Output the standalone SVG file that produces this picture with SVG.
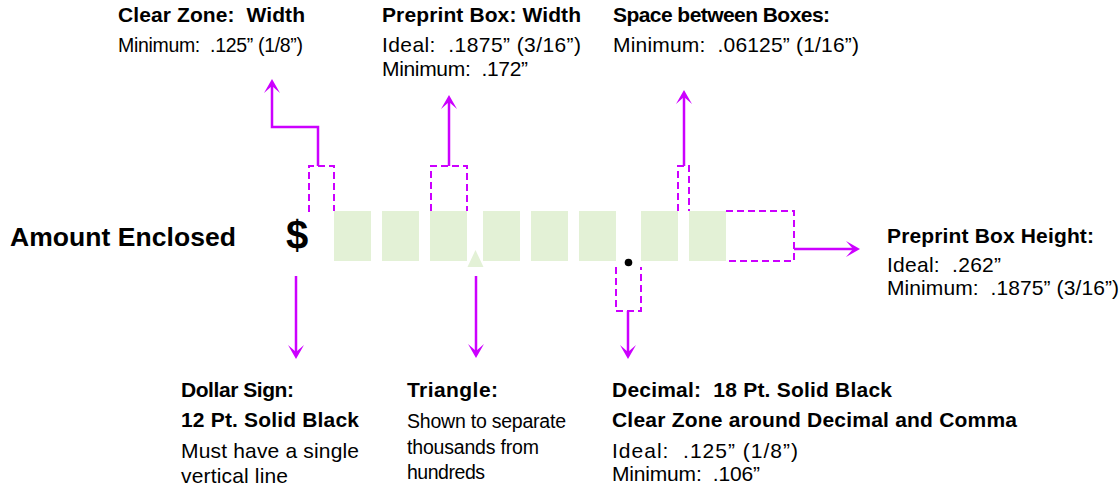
<svg xmlns="http://www.w3.org/2000/svg" width="1120" height="488" viewBox="0 0 1120 488" xml:space="preserve">
<defs>
<style>
text{font-family:"Liberation Sans",Arial,sans-serif;fill:#000;white-space:pre}
.t{font-weight:bold;font-size:21px}
.r{font-size:21px}
.s{font-size:19.5px}
.box{fill:#e3f1d6}
.dash{fill:none;stroke:#cc00ff;stroke-width:2;stroke-dasharray:7 4}
.arr{fill:none;stroke:#cc00ff;stroke-width:2.5;marker-end:url(#ah)}
</style>
<marker id="ah" viewBox="-14 -8 14 16" markerUnits="userSpaceOnUse" markerWidth="14" markerHeight="16" refX="-7" refY="0" orient="auto">
<path d="M0,0 L-14,-8 L-7,0 L-14,8 Z" fill="#cc00ff"/>
</marker>
</defs>
<rect width="1120" height="488" fill="#fff"/>
<g id="amount-enclosed"><text x="10" y="246" textLength="226" lengthAdjust="spacing" style="font-weight:bold;font-size:26.5px">Amount Enclosed</text></g>
<g id="dollar-sign"><text x="297" y="249" text-anchor="middle" style="font-weight:bold;font-size:40px">$</text></g>
<g id="preprint-boxes">
<rect class="box" x="334" y="211" width="37" height="50"/>
<rect class="box" x="382" y="211" width="37" height="50"/>
<rect class="box" x="430" y="211" width="37" height="50"/>
<rect class="box" x="483" y="211" width="37" height="50"/>
<rect class="box" x="531" y="211" width="37" height="50"/>
<rect class="box" x="579" y="211" width="37" height="50"/>
<rect class="box" x="641" y="211" width="37" height="50"/>
<rect class="box" x="689" y="211" width="37" height="50"/>
</g>
<g id="triangle"><polygon class="box" points="475.5,250 483.5,267 467.5,267"/></g>
<g id="decimal"><circle cx="628.5" cy="262.5" r="3.8" fill="#000"/></g>
<g id="dashed-zones">
<path class="dash" d="M309,212 V166 H334 V211"/>
<path class="dash" d="M431,211 V166 H467 V211"/>
<path class="dash" d="M678,211 V166 H689 V211"/>
<path class="dash" d="M616,267 V311 H641 V267"/>
<path class="dash" d="M726,211 H794 V261 H726"/>
</g>
<g id="connectors">
<path class="arr" d="M318,166 V127 H272 V86"/>
<path class="arr" d="M449,166 V102"/>
<path class="arr" d="M684,166 V97"/>
<path class="arr" d="M794,249 H853"/>
<path class="arr" d="M296,276 V352"/>
<path class="arr" d="M476,276 V351"/>
<path class="arr" d="M628,311 V352"/>
</g>
<g id="label-clear-zone">
<text class="t" x="118" y="22" textLength="187" lengthAdjust="spacing">Clear Zone:  Width</text>
<text class="s" x="118" y="52" textLength="185" lengthAdjust="spacing">Minimum:  .125” (1/8”)</text>
</g>
<g id="label-box-width">
<text class="t" x="382" y="22" textLength="199" lengthAdjust="spacing">Preprint Box: Width</text>
<text class="r" x="382" y="52" textLength="199" lengthAdjust="spacing">Ideal:  .1875” (3/16”)</text>
<text class="r" x="382" y="76" textLength="146" lengthAdjust="spacing">Minimum:  .172”</text>
</g>
<g id="label-space">
<text class="t" x="613" y="22" textLength="217" lengthAdjust="spacing">Space between Boxes:</text>
<text class="r" x="613" y="52" textLength="246" lengthAdjust="spacing">Minimum:  .06125” (1/16”)</text>
</g>
<g id="label-box-height">
<text class="t" x="887" y="243" textLength="207" lengthAdjust="spacing">Preprint Box Height:</text>
<text class="r" x="887" y="272" textLength="114" lengthAdjust="spacing">Ideal:  .262”</text>
<text class="r" x="887" y="295" textLength="232" lengthAdjust="spacing">Minimum:  .1875” (3/16”)</text>
</g>
<g id="label-dollar">
<text class="t" x="181" y="397" textLength="113" lengthAdjust="spacing">Dollar Sign:</text>
<text class="t" x="181" y="427" textLength="178" lengthAdjust="spacing">12 Pt. Solid Black</text>
<text class="r" x="181" y="458" textLength="178" lengthAdjust="spacing">Must have a single</text>
<text class="r" x="181" y="483" textLength="107" lengthAdjust="spacing">vertical line</text>
</g>
<g id="label-triangle">
<text class="t" x="407" y="397" textLength="91" lengthAdjust="spacing">Triangle:</text>
<text class="s" x="407" y="428" textLength="159" lengthAdjust="spacing">Shown to separate</text>
<text class="s" x="407" y="454" textLength="132" lengthAdjust="spacing">thousands from</text>
<text class="s" x="407" y="479" textLength="78" lengthAdjust="spacing">hundreds</text>
</g>
<g id="label-decimal">
<text class="t" x="612" y="397" textLength="280" lengthAdjust="spacing">Decimal:  18 Pt. Solid Black</text>
<text class="t" x="612" y="427" textLength="405" lengthAdjust="spacing">Clear Zone around Decimal and Comma</text>
<text class="r" x="612" y="458" textLength="186" lengthAdjust="spacing">Ideal:  .125” (1/8”)</text>
<text class="r" x="612" y="481" textLength="148" lengthAdjust="spacing">Minimum:  .106”</text>
</g>
</svg>
